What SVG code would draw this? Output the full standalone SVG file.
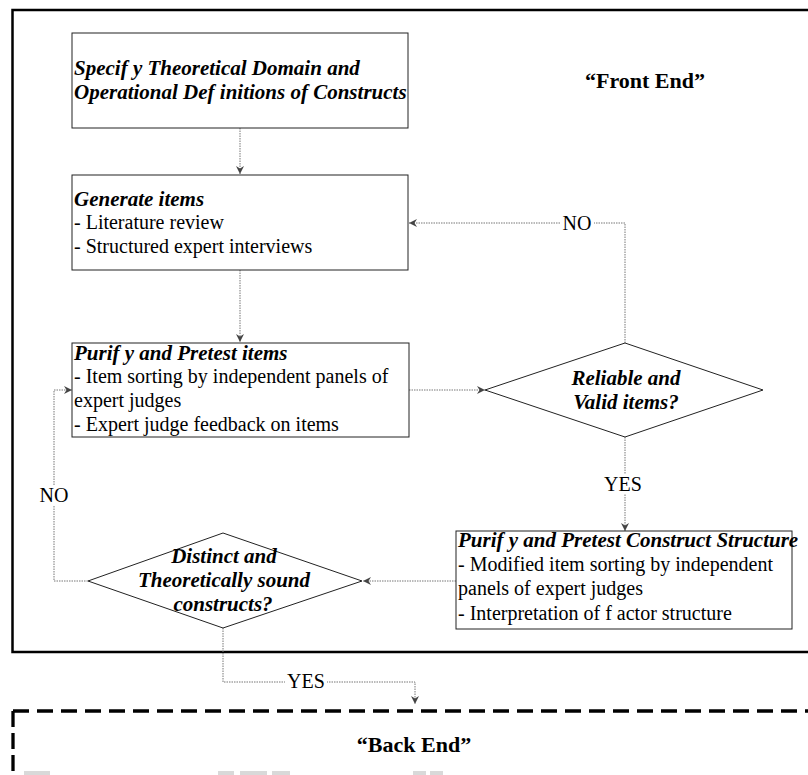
<svg xmlns="http://www.w3.org/2000/svg" width="808" height="775" viewBox="0 0 808 775">
  <style>
    .box { fill: #fff; stroke: #222; stroke-width: 1; }
    .dia { fill: #fff; stroke: #222; stroke-width: 1; }
    .ttl { font-family: "Liberation Serif", "Times New Roman", serif; font-size: 21px; font-weight: bold; font-style: italic; fill: #000; }
    .txt { font-family: "Liberation Serif", "Times New Roman", serif; font-size: 20px; fill: #000; }
    .lbl { font-family: "Liberation Serif", "Times New Roman", serif; font-size: 20px; fill: #000; text-anchor: middle; }
    .hdr { font-family: "Liberation Serif", "Times New Roman", serif; font-size: 22px; font-weight: bold; fill: #000; text-anchor: middle; }
    .conn { fill: none; stroke: #777; stroke-width: 1; stroke-dasharray: 1.5 1; }
    .lblbg { fill: #fff; }
  </style>
  <defs>
    <marker id="arrow" viewBox="0 0 8 8" refX="8" refY="4" markerWidth="8" markerHeight="8" markerUnits="userSpaceOnUse" orient="auto">
      <path d="M0,0 L8,4 L0,8 L2.5,4 Z" fill="#444"/>
    </marker>
  </defs>

  <rect width="808" height="775" fill="#fff"/>

  <!-- Front End frame (open on the right) -->
  <path d="M808,10 H12.5 V652 H808" fill="none" stroke="#000" stroke-width="2.5"/>
  <text class="hdr" x="645" y="88">“Front End”</text>

  <!-- Back End frame, dashed -->
  <g id="back-end">
    <path d="M13,711 H808" fill="none" stroke="#000" stroke-width="3.3" stroke-dasharray="16 8"/>
    <path d="M13,711 V775" fill="none" stroke="#000" stroke-width="3.3" stroke-dasharray="16 6"/>
    <text class="hdr" x="414" y="752">“Back End”</text>
    <!-- tops of the next row, cut off by the lower edge -->
    <g fill="#d9d9d9">
      <rect x="24" y="771" width="26" height="4"/>
      <rect x="218" y="771" width="16" height="4"/>
      <rect x="240" y="771" width="27" height="4"/>
      <rect x="272" y="771" width="18" height="4"/>
      <rect x="413" y="771" width="13" height="4"/>
      <rect x="430" y="771" width="13" height="4"/>
    </g>
  </g>

  <!-- Connectors -->
  <g id="connectors">
    <path class="conn" d="M240,128 V174" marker-end="url(#arrow)"/>
    <path class="conn" d="M240,270 V342" marker-end="url(#arrow)"/>
    <path class="conn" d="M409,390 H485" marker-end="url(#arrow)"/>
    <path class="conn" d="M625,343 V223 H409" marker-end="url(#arrow)"/>
    <path class="conn" d="M625,437 V531" marker-end="url(#arrow)"/>
    <path class="conn" d="M456,581 H363" marker-end="url(#arrow)"/>
    <path class="conn" d="M88,581 H54 V390 H72" marker-end="url(#arrow)"/>
    <path class="conn" d="M223,628 V682 H415 V704" marker-end="url(#arrow)"/>
  </g>

  <!-- Connector labels -->
  <g id="labels">
    <rect class="lblbg" x="560" y="213" width="34" height="20"/>
    <text class="lbl" x="577" y="230">NO</text>
    <rect class="lblbg" x="598" y="474" width="50" height="20"/>
    <text class="lbl" x="623" y="491">YES</text>
    <rect class="lblbg" x="38" y="485" width="33" height="20"/>
    <text class="lbl" x="54" y="502">NO</text>
    <rect class="lblbg" x="285" y="672" width="42" height="18"/>
    <text class="lbl" x="306" y="688">YES</text>
  </g>

  <!-- Nodes -->
  <g id="specify-domain">
    <rect class="box" x="72" y="33" width="336" height="95"/>
    <text class="ttl" x="74" y="75">Specif y Theoretical Domain and</text>
    <text class="ttl" x="74" y="99">Operational Def initions of  Constructs</text>
  </g>

  <g id="generate-items">
    <rect class="box" x="72" y="175" width="336" height="95"/>
    <text class="ttl" x="74" y="206">Generate items</text>
    <text class="txt" x="74" y="229">- Literature review</text>
    <text class="txt" x="74" y="253">- Structured expert interviews</text>
  </g>

  <g id="purify-items">
    <rect class="box" x="72" y="343" width="337" height="94"/>
    <text class="ttl" x="74" y="360">Purif y and Pretest items</text>
    <text class="txt" x="74" y="383">- Item sorting by independent panels of</text>
    <text class="txt" x="74" y="407">expert judges</text>
    <text class="txt" x="74" y="431">- Expert judge feedback on items</text>
  </g>

  <g id="reliable-valid">
    <polygon class="dia" points="485,390 625,343 763,390 625,437"/>
    <text class="ttl" x="626" y="385" text-anchor="middle">Reliable and</text>
    <text class="ttl" x="626" y="409" text-anchor="middle">Valid items?</text>
  </g>

  <g id="purify-structure">
    <rect class="box" x="456" y="531" width="336" height="98"/>
    <text class="ttl" x="458" y="547">Purif y and Pretest Construct Structure</text>
    <text class="txt" x="458" y="571">- Modified item sorting by independent</text>
    <text class="txt" x="458" y="595">panels of expert judges</text>
    <text class="txt" x="458" y="620">- Interpretation of f actor structure</text>
  </g>

  <g id="distinct-sound">
    <polygon class="dia" points="88,581 223,533 362,581 223,628"/>
    <text class="ttl" x="224" y="563" text-anchor="middle">Distinct and</text>
    <text class="ttl" x="224" y="587" text-anchor="middle">Theoretically  sound</text>
    <text class="ttl" x="223" y="611" text-anchor="middle">constructs?</text>
  </g>
</svg>
